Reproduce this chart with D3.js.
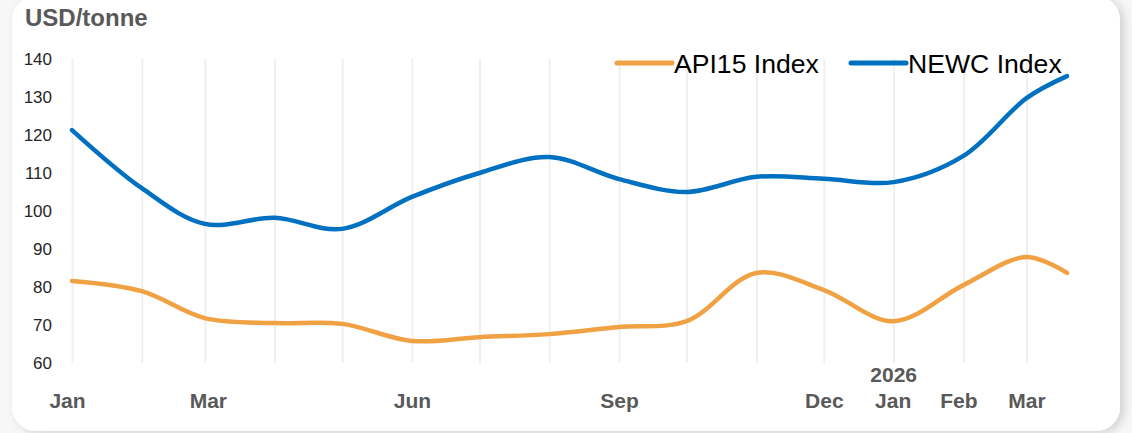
<!DOCTYPE html>
<html>
<head>
<meta charset="utf-8">
<script src="https://cdn.jsdelivr.net/npm/d3@7"></script>
<style>
  body { margin: 0; background: #f7f7f7; }
  svg { display: block; font-family: "Liberation Sans", Arial, sans-serif; }
</style>
</head>
<body>
<svg id="chart" width="1132" height="433"></svg>
<script>
// monthly points, last one is the latest reading
var dates = ['2025-01-01','2025-02-01','2025-03-01','2025-04-01','2025-05-01','2025-06-01',
	'2025-07-01','2025-08-01','2025-09-01','2025-10-01','2025-11-01','2025-12-01',
	'2026-01-01','2026-02-01','2026-03-01','2026-03-19'];
var api15 = [81.6, 78.9, 71.8, 70.5, 70.3, 65.8, 66.8, 67.6, 69.5, 71.0, 83.7, 79.2, 71.0, 80.5, 87.9, 83.7];
var newc = [121.3, 106.0, 96.6, 98.2, 95.3, 103.7, 110.0, 114.2, 108.4, 105.0, 109.0, 108.5, 107.6, 114.5, 129.7, 135.5];
var yTicks = [60, 70, 80, 90, 100, 110, 120, 130, 140];
var xLabelDates = ['2025-01-01','2025-03-01','2025-06-01','2025-09-01','2025-12-01','2026-01-01','2026-02-01','2026-03-01'];
var seriesNames = ['API15 Index', 'NEWC Index'];
var seriesColors = ['#F0A143', '#0070C0'];

var plot = {left: 72, right: 1067, top: 59, bottom: 363};
var parse = d3.timeParse('%Y-%m-%d');

var svg = d3.select('#chart');

// card with soft shadow
var defs = svg.append('defs');
var f = defs.append('filter').attr('id', 'shadow')
	.attr('x', '-5%').attr('y', '-10%').attr('width', '110%').attr('height', '125%');
f.append('feDropShadow').attr('dx', 4).attr('dy', 2).attr('stdDeviation', 5)
	.attr('flood-color', '#000').attr('flood-opacity', 0.16);
svg.append('rect')
	.attr('x', 12).attr('y', -4).attr('width', 1108).attr('height', 435)
	.attr('rx', 24).attr('fill', '#fff').attr('filter', 'url(#shadow)');

var x = d3.scaleTime()
	.domain([parse(dates[0]), parse(dates[dates.length - 1])])
	.range([plot.left, plot.right]);
var y = d3.scaleLinear().domain([60, 140]).range([plot.bottom, plot.top]);

// monthly gridlines
var grid = svg.append('g')
	.attr('transform', 'translate(0,' + plot.bottom + ')')
	.call(d3.axisBottom(x)
		.tickValues(d3.timeMonth.range(parse(dates[0]), parse(dates[dates.length - 1])))
		.tickSize(-(plot.bottom - plot.top))
		.tickFormat(''));
grid.select('.domain').remove();
grid.selectAll('line').attr('stroke', '#efefef').attr('stroke-width', 2);

// y axis
var yAxis = svg.append('g')
	.attr('transform', 'translate(' + plot.left + ',0)')
	.call(d3.axisLeft(y).tickValues(yTicks).tickSize(0).tickPadding(20));
yAxis.select('.domain').remove();
yAxis.selectAll('text')
	.attr('font-size', 17).attr('fill', '#262626')
	.attr('font-family', '"Liberation Sans", Arial, sans-serif');

// x axis labels
var xAxis = svg.append('g')
	.attr('transform', 'translate(0,' + plot.bottom + ')')
	.call(d3.axisBottom(x)
		.tickValues(xLabelDates.map(parse))
		.tickSize(0).tickPadding(30)
		.tickFormat(d3.timeFormat('%b')));
xAxis.select('.domain').remove();
xAxis.selectAll('text')
	.attr('font-size', 21).attr('font-weight', 'bold').attr('fill', '#595959')
	.attr('font-family', '"Liberation Sans", Arial, sans-serif');
// nudge a few labels the way the original sits
var nudge = [-5, 3, 0, 0, 0, -1, -5, 0];
xAxis.selectAll('.tick text').attr('dx', function(d, i){ return nudge[i]; });

svg.append('text')
	.attr('x', x(parse('2026-01-01'))).attr('y', 382)
	.attr('text-anchor', 'middle')
	.attr('font-size', 21).attr('font-weight', 'bold').attr('fill', '#595959')
	.text('2026');

// lines
var line = d3.line()
	.x(function(d) { return x(d.date); })
	.y(function(d) { return y(d.value); })
	.curve(d3.curveCatmullRom.alpha(0.5));

[api15, newc].forEach(function(vals, i){
	var pts = vals.map(function(v, j){ return {date: parse(dates[j]), value: v}; });
	svg.append('path')
		.datum(pts)
		.attr('d', line)
		.attr('fill', 'none')
		.attr('stroke', seriesColors[i])
		.attr('stroke-width', 4.5)
		.attr('stroke-linecap', 'round');
});

// legend
var legendX = [617, 851];
seriesNames.forEach(function(name, i){
	var g = svg.append('g').attr('transform', 'translate(' + legendX[i] + ',63)');
	g.append('line').attr('x1', 0).attr('x2', 55)
		.attr('stroke', seriesColors[i]).attr('stroke-width', 5).attr('stroke-linecap', 'round');
	g.append('text').attr('x', 57).attr('y', 9.5)
		.attr('font-size', 26.6).attr('fill', '#000').text(name);
});

// unit title
svg.append('text')
	.attr('x', 25).attr('y', 26)
	.attr('font-size', 24).attr('font-weight', 'bold').attr('fill', '#595959')
	.text('USD/tonne');
</script>
</body>
</html>
